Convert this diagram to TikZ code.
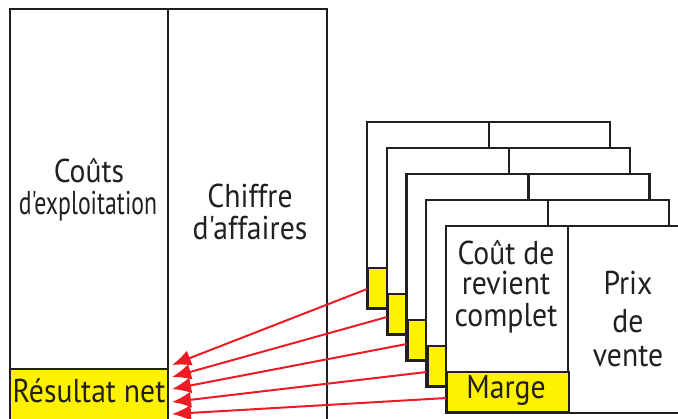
\documentclass[tikz,border=0pt]{standalone}
\usepackage{fontspec}
\setmainfont[FakeStretch=0.9, Ligatures=TeXOff]{PT Sans}
\newfontfamily\tightfont[FakeStretch=0.72, Ligatures=TeXOff]{PT Sans}
\usetikzlibrary{arrows.meta}
\definecolor{ink}{HTML}{231F20}
\definecolor{marge}{RGB}{255,242,0}
\definecolor{flow}{RGB}{237,28,36}
\tikzset{
  frame/.style={draw=ink, line width=2.4pt},
  cardbox/.style={frame, fill=white},
  hilite/.style={frame, fill=marge},
  lbl/.style={text=ink, inner sep=0pt, anchor=base, font=\fontsize{33}{36}\selectfont},
  transfer/.style={draw=flow, line width=2pt, -{Latex[length=19pt,width=16pt]}},
}
\begin{document}
\begin{tikzpicture}[x=1pt, y=-1pt]
\useasboundingbox (0,0) rectangle (678,419);
\clip (0,0) rectangle (678,419);

% income statement block
\draw[frame, fill=white] (10,9) rectangle (327,440);
\draw[hilite] (10,369) rectangle (168,440);
\draw[frame] (168,9) -- (168,440);
\node[lbl] (couts1) at (89,183) {Coûts};
\node[lbl] (couts2) at (88,215) {\tightfont d'exploitation};
\node[lbl] (ca1) at (250,208) {Chiffre};
\node[lbl] (ca2) at (250,240) {d'affaires};
\node[lbl] (res) at (89,403) {Résultat net};

% stack of product cards, back to front
\foreach \i in {1,...,5} {
  \pgfmathsetmacro{\L}{367+19.75*(\i-1)}
  \pgfmathsetmacro{\T}{122+26*(\i-1)}
  \draw[cardbox] (\L,\T) rectangle ({\L+243},{\T+187});
  \draw[frame] ({\L+122},\T) -- ({\L+122},{\T+187});
  \node[hilite, minimum width=122pt, minimum height=39.5pt, inner sep=0pt, anchor=south west]
    (m\i) at (\L,{\T+187}) {};
}
\node[lbl] (mtxt) at (506,399) {Marge};
\node[lbl] (crc1) at (506,265) {Coût de};
\node[lbl] (crc2) at (506,295) {revient};
\node[lbl] (crc3) at (506,327) {complet};
\node[lbl] (pv1) at (628,295) {Prix};
\node[lbl] (pv2) at (628,333) {de};
\node[lbl] (pv3) at (628,367) {vente};

% arrow tips on the result line
\coordinate (t1) at (172,365);
\coordinate (t2) at (172,377);
\coordinate (t3) at (172,389);
\coordinate (t4) at (172,402);
\coordinate (t5) at (172,414);

\draw[transfer] ([yshift=-1pt]m1.west) -- (t1);
\draw[transfer] ([yshift=-3pt]m2.west) -- (t2);
\draw[transfer] ([yshift=-4pt]m3.west) -- (t3);
\draw[transfer] ([yshift=-6pt]m4.west) -- (t4);
\draw[transfer] ([yshift=-6pt]m5.west) -- (t5);
\end{tikzpicture}
\end{document}
